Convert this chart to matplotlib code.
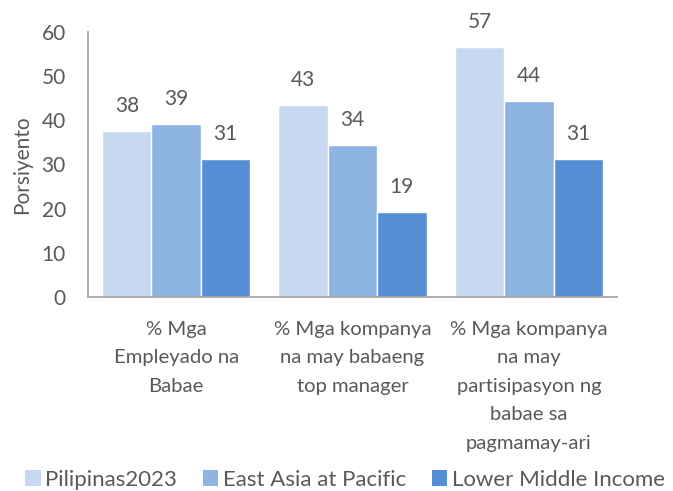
import matplotlib
matplotlib.use("Agg")
import matplotlib.pyplot as plt
from matplotlib.patches import Patch
import numpy as np

categories = ["% Mga\nEmpleyado na\nBabae",
              "% Mga kompanya\nna may babaeng\ntop manager",
              "% Mga kompanya\nna may\npartisipasyon ng\nbabae sa\npagmamay-ari"]
series_names = ["Pilipinas2023", "East Asia at Pacific", "Lower Middle Income"]
pilipinas = [37.6, 43.4, 56.7]
east_asia = [39.2, 34.4, 44.3]
lower_mid = [31.2, 19.3, 31.2]
yticks = [0, 10, 20, 30, 40, 50, 60]

colors = ["#C6D9F1", "#8EB4E3", "#558ED5"]
txt = "#595959"
FS = 15
plt.rcParams['font.family'] = ['Lato', 'DejaVu Sans']

fig = plt.figure(figsize=(6.73, 4.91), dpi=100)
ax = fig.add_axes([88/673, 1-297/491, (617-88)/673, (297-32)/491])

x = np.arange(len(categories))
w = 0.28
data = [pilipinas, east_asia, lower_mid]
for i, (vals, c) in enumerate(zip(data, colors)):
    bars = ax.bar(x + (i-1)*w, vals, w, color=c, edgecolor="white", linewidth=1, label=series_names[i])
    for b, v in zip(bars, vals):
        ax.annotate(f"{round(v):d}", (b.get_x()+b.get_width()/2, v), xytext=(0, 18),
                    textcoords="offset points", ha="center", va="center", fontsize=FS, color=txt)

ax.set_xlim(-0.5, 2.5)
ax.set_ylim(0, 60)
ax.set_yticks(yticks)
ax.set_xticks(x)
ax.set_xticklabels(categories, fontsize=14.6, color=txt, linespacing=1.82)
ax.tick_params(axis='x', length=0, pad=17)
ax.tick_params(axis='y', length=0, pad=16, labelsize=FS, labelcolor=txt)
for s in ["top", "right"]:
    ax.spines[s].set_visible(False)
for s in ["left", "bottom"]:
    ax.spines[s].set_color("#A6A6A6")
    ax.spines[s].set_linewidth(1.3)
ax.set_ylabel("Porsiyento", fontsize=FS, color=txt, labelpad=7)

handles = [Patch(facecolor=c, edgecolor="none") for c in colors]
fig.legend(handles, series_names, loc="center", bbox_to_anchor=(345/673, 1-479.5/491), ncol=3,
           frameon=False, fontsize=16, handlelength=0.7, handleheight=0.7, handletextpad=0.2,
           columnspacing=1.15, labelcolor=txt, borderaxespad=0, borderpad=0)

fig.savefig("out.png", dpi=100)
